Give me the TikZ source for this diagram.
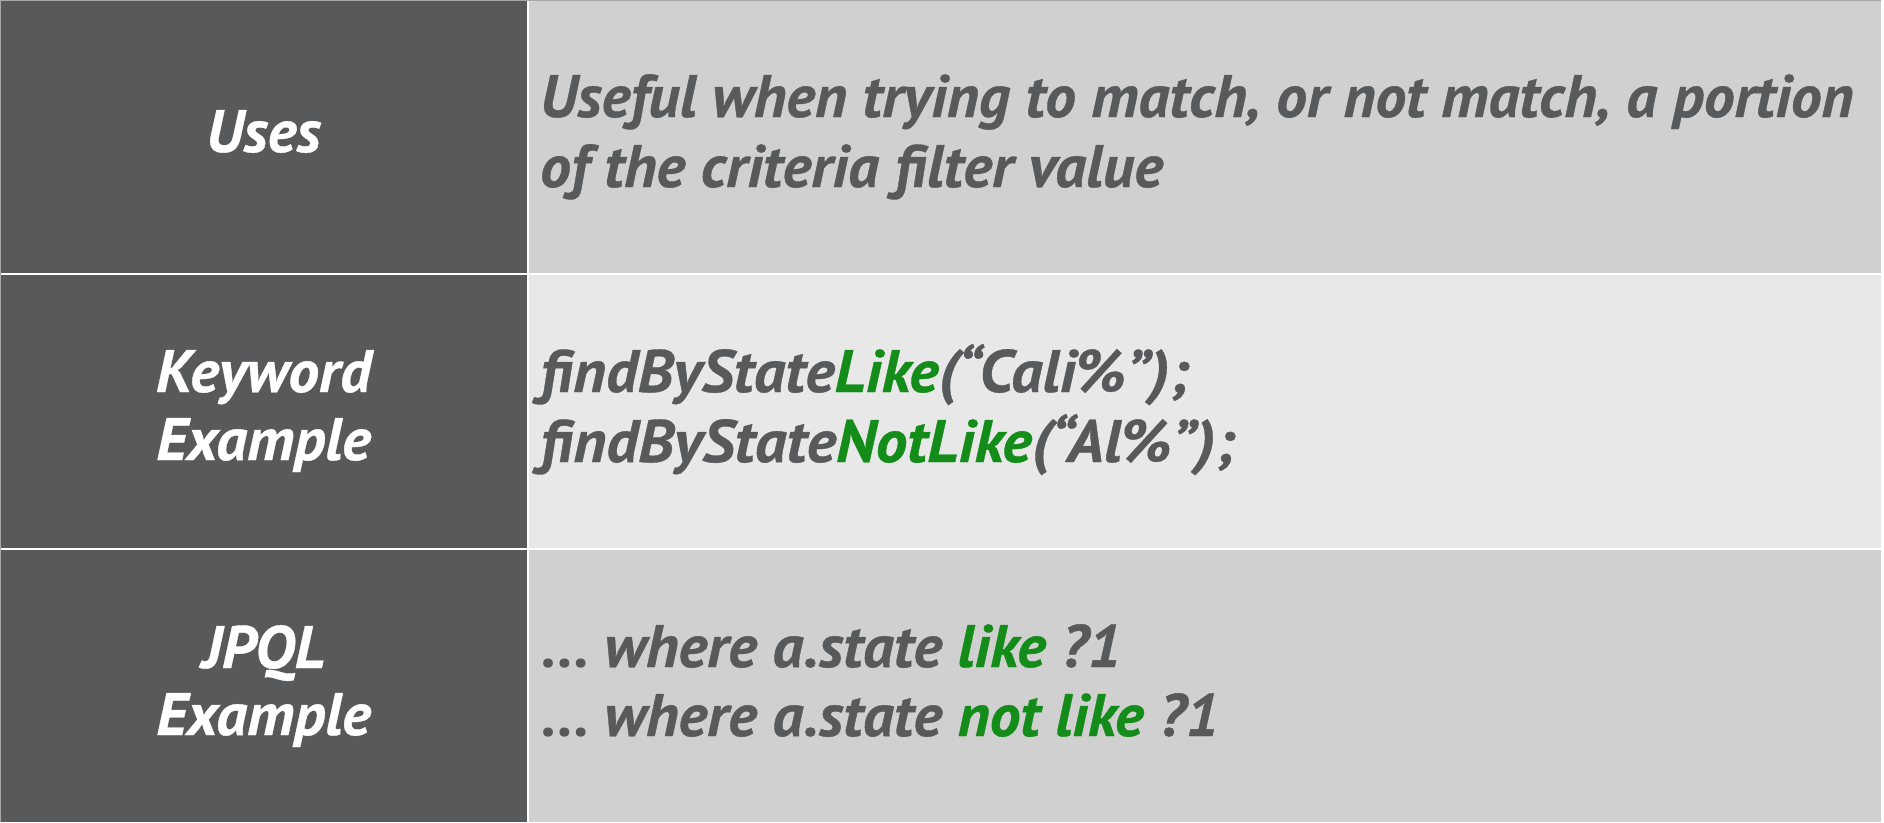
\documentclass[tikz,border=0pt]{standalone}
\usepackage{fontspec}
\setmainfont{PT Sans}[BoldItalicFeatures={FakeStretch=1.025,FakeBold=0.6}]
\definecolor{darkcell}{HTML}{58595B}
\definecolor{lightcell}{HTML}{D0D0D0}
\definecolor{palecell}{HTML}{E8E8E8}
\definecolor{txtgray}{HTML}{58595B}
\definecolor{kwgreen}{RGB}{20,140,25}
\definecolor{edgegray}{HTML}{A8A8A8}
\newcommand{\gr}[1]{\textcolor{kwgreen}{#1}}
\tikzset{
  hdr/.style={font=\fontsize{60}{70}\selectfont\bfseries\itshape, text=white, anchor=base, inner sep=0pt},
  body/.style={font=\fontsize{60}{70}\selectfont\bfseries\itshape, text=txtgray, anchor=base west, inner sep=0pt},
}
\begin{document}
\begin{tikzpicture}[x=1pt,y=-1pt]
\useasboundingbox (0,0) rectangle (1884,822);
\fill[white] (0,0) rectangle (1884,822);
% cells
\fill[darkcell] (0,0) rectangle (527,273);
\fill[darkcell] (0,275) rectangle (527,548);
\fill[darkcell] (0,550) rectangle (527,822);
\fill[lightcell] (529,0) rectangle (1881,273);
\fill[palecell] (529,275) rectangle (1881,548);
\fill[lightcell] (529,550) rectangle (1881,822);
\draw[edgegray, line width=1pt] (0.5,821.5) -- (0.5,0.5) -- (1881,0.5);
% left column
\node[hdr] (uses) at (263.5,152) {Uses};
\node[hdr] (kw1) at (263.5,392) {Keyword};
\node[hdr] (kw2) at (263.5,460) {Example};
\node[hdr] (jp1) at (263.5,668) {JPQL};
\node[hdr] (jp2) at (263.5,735) {Example};
% right column
\node[body] (u1) at (540,117) {Useful when trying to match, or not match, a portion};
\node[body] (u2) at (540,187) {of the criteria filter value};
\node[body] (k1) at (540,392) {\scalebox{1.02}[1]{findByState\gr{Like}(“Cali\%”);}};
\node[body] (k2) at (540,462) {\scalebox{1.025}[1]{findByState\gr{NotLike}(“Al\%”);}};
\node[body] (j1) at (540,667) {\upshape…\itshape{} where a.state \gr{like} ?1};
\node[body] (j2) at (540,736) {\upshape…\itshape{} where a.state \gr{not like} ?1};
\end{tikzpicture}
\end{document}
